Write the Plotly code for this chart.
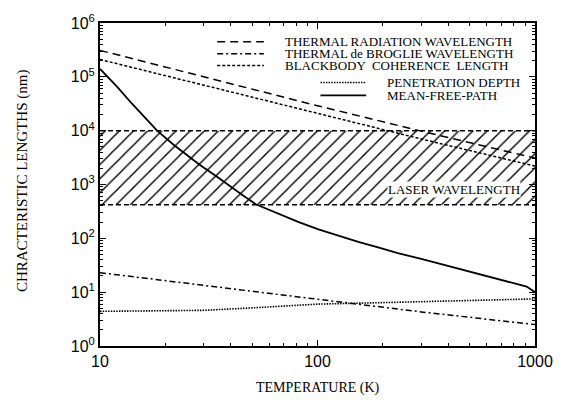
import plotly.graph_objects as go

# ---- data ----
T_rad = [10, 30, 100, 300, 1000]
thermal_radiation = [3.1e5, 1.0e5, 2.9e4, 9.8e3, 3.1e3]

T_dbr = [10, 30, 100, 300, 1000]
de_broglie = [23, 13.5, 7.5, 4.3, 2.5]

T_bb = [10, 30, 100, 300, 1000]
blackbody = [2.1e5, 7.0e4, 2.1e4, 7.0e3, 2.2e3]

T_pen = [10, 20, 30, 50, 100, 200, 300, 500, 1000]
penetration = [4.4, 4.5, 4.6, 5.1, 6.0, 6.4, 6.6, 7.0, 7.5]

T_mfp = [10, 12, 14, 16, 18.3, 22, 25, 28.6, 34, 40, 46, 52, 65, 82, 101, 125,
         154, 190, 234, 300, 396, 500, 670, 800, 915, 1000]
mean_free_path = [1.4e5, 6.5e4, 3.2e4, 1.8e4, 1.0e4, 5.3e3, 3.6e3, 2.35e3, 1.45e3,
                  925, 605, 430, 295, 200, 147, 111, 86, 68, 53, 41.5, 31, 24.3,
                  17.9, 14.7, 12.7, 10]

laser_T = [10, 1000]
laser_low = 420
laser_high = 1.0e4

x_ticks = [10, 100, 1000]
x_ticktext = ["10", "100", "1000"]
y_ticks = [1, 10, 100, 1e3, 1e4, 1e5, 1e6]
y_ticktext = ["10<sup>0</sup>", "10<sup>1</sup>", "10<sup>2</sup>", "10<sup>3</sup>",
              "10<sup>4</sup>", "10<sup>5</sup>", "10<sup>6</sup>"]

legend_entries = [
    ("THERMAL RADIATION WAVELENGTH", "8px,5px", 1.5),
    ("THERMAL de BROGLIE WAVELENGTH", "6px,3px,2px,3px", 1.5),
    ("BLACKBODY  COHERENCE  LENGTH", "3px,2px", 1.5),
    ("PENETRATION DEPTH", "1.5px,1.2px", 1.6),
    ("MEAN-FREE-PATH", "solid", 1.8),
]

SERIF = "Liberation Serif"
SANS = "Liberation Sans"

fig = go.Figure()

# hatched laser wavelength band
fig.add_trace(go.Scatter(
    x=[laser_T[0], laser_T[1], laser_T[1], laser_T[0], laser_T[0]],
    y=[laser_high, laser_high, laser_low, laser_low, laser_high],
    mode="lines", line=dict(width=0), fill="toself",
    fillcolor="rgba(255,255,255,0)",
    fillpattern=dict(shape="/", size=10, solidity=0.14, fgcolor="black",
                     fgopacity=1, bgcolor="rgba(255,255,255,0)"),
    hoverinfo="skip", showlegend=False))
for yv in (laser_high, laser_low):
    fig.add_trace(go.Scatter(x=laser_T, y=[yv, yv], mode="lines",
                             line=dict(color="black", width=1.5, dash="5px,3px"),
                             hoverinfo="skip", showlegend=False))

series = [
    (T_rad, thermal_radiation, legend_entries[0]),
    (T_dbr, de_broglie, legend_entries[1]),
    (T_bb, blackbody, legend_entries[2]),
    (T_pen, penetration, legend_entries[3]),
    (T_mfp, mean_free_path, legend_entries[4]),
]
for xs, ys, (name, dash, w) in series:
    fig.add_trace(go.Scatter(x=xs, y=ys, mode="lines", name=name,
                             line=dict(color="black", width=w, dash=dash),
                             showlegend=False))

# manual legend (paper coordinates)
L, R, TOP, BOT = 100, 538, 20, 346
def px(X):
    return (X - L) / (R - L)
def py(Y):
    return (BOT - Y) / (BOT - TOP)

rows_y = [39, 51, 63, 80, 93]
sample_x = [(218, 265)] * 3 + [(322, 368)] * 2
text_x = [285] * 3 + [388] * 2
for (name, dash, w), ry, (sx0, sx1), tx in zip(legend_entries, rows_y, sample_x, text_x):
    fig.add_shape(type="line", xref="paper", yref="paper",
                  x0=px(sx0), x1=px(sx1), y0=py(ry), y1=py(ry),
                  line=dict(color="black", width=w, dash=dash))
    fig.add_annotation(xref="paper", yref="paper", x=px(tx), y=py(ry),
                       text=name, showarrow=False, xanchor="left", yanchor="middle",
                       borderpad=0,
                       font=dict(family=SERIF, size=13, color="black"))

fig.add_annotation(xref="paper", yref="paper", x=px(524), y=py(188),
                   text="LASER WAVELENGTH", showarrow=False, xanchor="right",
                   yanchor="middle", bgcolor="white", borderpad=0,
                   font=dict(family=SERIF, size=13, color="black"))

fig.add_annotation(xref="paper", yref="paper", x=0.5, y=py(388),
                   text="TEMPERATURE (K)", showarrow=False, xanchor="center",
                   yanchor="middle", font=dict(family=SERIF, size=14, color="black"))
fig.add_annotation(xref="paper", yref="paper", x=px(22), y=py(179),
                   text="CHRACTERISTIC LENGTHS (nm)", showarrow=False, textangle=-90,
                   xanchor="center", yanchor="middle",
                   font=dict(family=SERIF, size=15, color="black"))

def minor_vals(lo_exp, hi_exp):
    return [m * 10 ** e for e in range(lo_exp, hi_exp) for m in range(2, 10)]

def axis_common(minor_ticks):
    return dict(showline=True, linecolor="black", linewidth=2, mirror="allticks",
                ticks="inside", ticklen=6, tickwidth=1.2, tickcolor="black",
                showgrid=False, zeroline=False,
                minor=dict(ticks="inside", ticklen=3, tickcolor="black", tickwidth=1,
                           showgrid=False, tickmode="array", tickvals=minor_ticks),
                tickfont=dict(family=SANS, size=16, color="black"))

fig.update_xaxes(type="log", range=[1, 3], tickvals=x_ticks, ticktext=x_ticktext,
                 **axis_common(minor_vals(1, 3)))
fig.update_yaxes(type="log", range=[0, 6], tickvals=y_ticks, ticktext=y_ticktext,
                 **axis_common(minor_vals(0, 6)))

fig.update_layout(width=565, height=400, margin=dict(l=100, r=27, t=20, b=54),
                  plot_bgcolor="white", paper_bgcolor="white", showlegend=False)

fig.write_html("out.html")
